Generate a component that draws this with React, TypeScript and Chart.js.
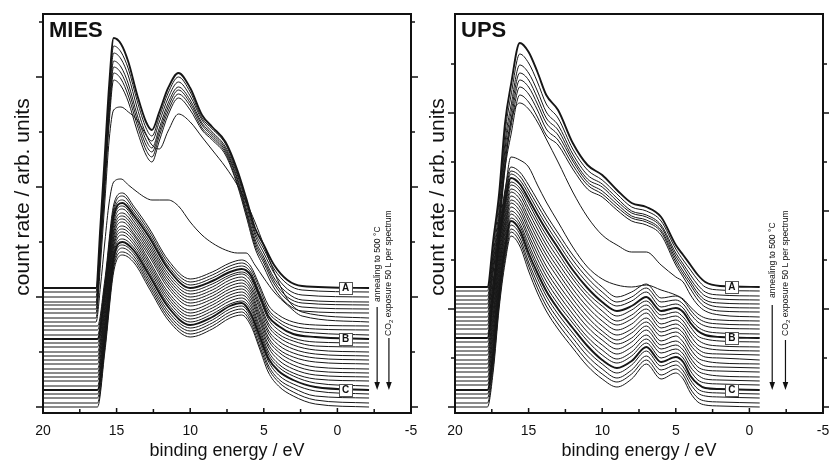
import React, { useEffect, useRef } from "react";
import { Chart, registerables } from "chart.js";

Chart.register(...registerables);

const FONT = '"Liberation Sans", Arial, Helvetica, sans-serif';

// ---------------- MIES data ----------------
// binding energies (eV) for the upper spectra (annealing series)
const miesTopEnergy = [20, 16.4, 16.1, 15.8, 15.5, 15.2, 14.7, 14.2, 13.6, 13.0, 12.6, 12.1, 11.5, 10.8, 10.0, 9.2, 8.5, 7.6, 6.8, 6.2, 5.6, 5.0, 4.3, 3.4, 2.4, -2.15];
const miesTopCurves = [
  [119, 119, 181, 252, 323, 369, 363, 345, 312, 285, 277, 295, 319, 334, 319, 292, 280, 265, 237, 209, 179, 162, 142, 127, 121, 119],
  [115, 115, 176, 246, 316, 361, 355, 338, 306, 279, 271, 290, 314, 330, 315, 289, 278, 263, 234, 206, 175, 158, 138, 123, 117, 115],
  [110, 110, 171, 239, 309, 354, 348, 331, 299, 273, 266, 285, 309, 325, 311, 287, 275, 260, 232, 203, 172, 154, 134, 118, 112, 110],
  [105, 105, 165, 233, 302, 346, 340, 323, 292, 267, 259, 279, 304, 320, 307, 284, 273, 258, 229, 199, 168, 150, 129, 114, 107, 105],
  [102, 102, 161, 228, 296, 340, 334, 317, 287, 262, 255, 275, 300, 317, 304, 282, 271, 256, 227, 196, 165, 147, 126, 110, 104, 102],
  [98, 98, 157, 223, 291, 334, 328, 311, 282, 257, 250, 271, 296, 313, 301, 279, 269, 254, 224, 194, 162, 144, 123, 107, 100, 98],
  [94, 94, 152, 217, 285, 327, 321, 305, 276, 252, 245, 266, 292, 309, 297, 277, 267, 252, 222, 191, 159, 140, 119, 103, 96, 94],
  [89, 89, 142, 205, 268, 297, 300, 295, 287, 272, 262, 258, 276, 293, 285, 270, 257, 240, 222, 205, 185, 162, 135, 108, 95, 89],
  [85, 85, 120, 165, 205, 225, 228, 222, 215, 209, 207, 207, 207, 201, 185, 172, 164, 157, 154, 154, 142, 129, 115, 102, 91, 85],
];
// binding energies (eV) for the lower spectra (CO2 exposure series)
const miesLowEnergy = [20, 16.3, 15.8, 15.2, 14.6, 13.8, 12.8, 11.5, 10.0, 8.5, 7.3, 6.5, 5.9, 5.3, 4.7, 4.0, 3.0, 1.5, -2.15];
const miesLowCurves = [
  [81, 81, 127, 202, 214, 200, 179, 147, 128, 135, 144, 147, 141, 122, 102, 92, 85, 82, 81],
  [77, 77, 123, 198, 211, 197, 176, 144, 125, 132, 141, 144, 138, 119, 98, 88, 81, 78, 77],
  [72, 72, 119, 195, 207, 194, 173, 141, 122, 129, 138, 141, 135, 115, 95, 85, 77, 74, 72],
  [68, 68, 116, 191, 204, 191, 170, 138, 119, 126, 135, 138, 132, 112, 91, 81, 73, 70, 68],
  [64, 64, 112, 188, 201, 188, 166, 134, 116, 123, 132, 135, 129, 109, 88, 77, 69, 65, 64],
  [60, 60, 108, 184, 198, 185, 163, 131, 113, 120, 130, 133, 126, 105, 84, 73, 66, 61, 60],
  [55, 55, 104, 181, 194, 182, 160, 128, 110, 117, 127, 130, 122, 102, 81, 70, 62, 57, 55],
  [51, 51, 100, 177, 191, 179, 157, 125, 107, 114, 124, 127, 119, 99, 77, 66, 58, 53, 51],
  [47, 47, 97, 174, 188, 176, 154, 122, 104, 111, 121, 124, 116, 95, 74, 62, 54, 49, 47],
  [43, 43, 93, 170, 185, 173, 151, 119, 101, 108, 118, 121, 113, 92, 70, 58, 50, 45, 43],
  [38, 38, 89, 167, 181, 171, 147, 115, 97, 105, 115, 118, 110, 89, 67, 55, 46, 40, 38],
  [34, 34, 85, 163, 178, 168, 144, 112, 94, 102, 112, 115, 107, 86, 63, 51, 42, 36, 34],
  [30, 30, 82, 160, 175, 165, 141, 109, 91, 99, 109, 112, 104, 82, 60, 47, 38, 32, 30],
  [26, 26, 78, 156, 172, 162, 138, 106, 88, 96, 106, 109, 101, 79, 56, 43, 34, 28, 26],
  [21, 21, 74, 153, 168, 159, 135, 103, 85, 93, 103, 106, 98, 76, 53, 40, 31, 24, 21],
  [17, 17, 70, 149, 165, 156, 132, 100, 82, 90, 101, 104, 94, 72, 49, 36, 27, 20, 17],
  [13, 13, 66, 146, 162, 153, 128, 96, 79, 87, 98, 101, 91, 69, 46, 32, 23, 16, 13],
  [9, 9, 63, 142, 159, 150, 125, 93, 76, 84, 95, 98, 88, 66, 42, 28, 19, 11, 9],
  [4, 4, 59, 139, 155, 147, 122, 90, 73, 81, 92, 95, 85, 62, 39, 25, 15, 7, 4],
  [0, 0, 55, 135, 152, 144, 119, 87, 70, 78, 89, 92, 82, 59, 35, 21, 11, 3, 0],
];

// ---------------- UPS data ----------------
const upsEnergy = [20, 17.8, 17.4, 17.0, 16.6, 16.2, 15.6, 15.0, 14.4, 13.8, 13.0, 12.0, 11.0, 10.0, 9.0, 8.0, 7.0, 6.0, 5.0, 4.5, 4.0, 3.5, 3.0, 2.0, -0.7];
const upsTopCurves = [
  [120, 120, 167, 214, 284, 322, 364, 355, 335, 312, 297, 264, 242, 232, 217, 204, 200, 190, 162, 152, 142, 132, 125, 121, 120],
  [116, 116, 160, 206, 274, 311, 353, 344, 325, 303, 289, 258, 237, 227, 213, 200, 196, 186, 158, 147, 137, 127, 120, 117, 116],
  [111, 111, 154, 198, 265, 301, 342, 334, 316, 295, 282, 253, 232, 223, 209, 196, 192, 182, 154, 143, 132, 122, 115, 112, 111],
  [107, 107, 150, 192, 258, 294, 334, 327, 309, 289, 277, 249, 228, 220, 206, 194, 190, 180, 151, 140, 128, 118, 111, 108, 107],
  [103, 103, 146, 187, 251, 287, 327, 320, 303, 284, 272, 246, 225, 216, 203, 191, 187, 177, 148, 136, 125, 114, 107, 104, 103],
  [99, 99, 142, 182, 245, 280, 320, 313, 297, 278, 267, 242, 222, 213, 200, 189, 185, 175, 145, 133, 122, 111, 104, 100, 99],
  [95, 95, 137, 176, 238, 272, 312, 305, 290, 272, 262, 238, 218, 210, 197, 186, 182, 172, 142, 130, 118, 107, 100, 96, 95],
  [90, 90, 135, 185, 240, 285, 304, 298, 285, 268, 245, 215, 190, 172, 162, 155, 155, 142, 130, 125, 112, 102, 96, 92, 90],
  [86, 86, 125, 170, 215, 250, 247, 240, 222, 205, 185, 160, 140, 128, 122, 120, 122, 117, 112, 108, 100, 93, 89, 87, 86],
];
const upsLowCurves = [
  [82, 82, 127, 177, 217, 240, 235, 222, 207, 192, 174, 152, 134, 120, 110, 115, 123, 109, 111, 107, 97, 89, 85, 83, 82],
  [78, 78, 122, 173, 213, 236, 231, 217, 202, 187, 169, 147, 129, 115, 105, 110, 119, 105, 107, 103, 93, 85, 81, 79, 78],
  [73, 73, 117, 169, 209, 233, 227, 213, 197, 182, 164, 142, 124, 110, 101, 106, 115, 100, 103, 99, 88, 80, 76, 74, 73],
  [69, 69, 113, 165, 205, 229, 223, 208, 192, 177, 159, 137, 119, 105, 96, 101, 110, 96, 99, 95, 84, 76, 72, 70, 69],
  [65, 65, 108, 161, 202, 225, 219, 204, 187, 172, 154, 132, 114, 101, 91, 97, 106, 92, 95, 90, 80, 71, 68, 66, 65],
  [60, 60, 103, 156, 198, 222, 216, 199, 183, 167, 149, 128, 110, 96, 86, 92, 102, 88, 91, 86, 75, 67, 63, 61, 60],
  [56, 56, 98, 152, 194, 218, 212, 195, 178, 162, 144, 123, 105, 91, 82, 88, 98, 83, 87, 82, 71, 62, 59, 57, 56],
  [52, 52, 93, 148, 190, 215, 208, 190, 173, 157, 139, 118, 100, 86, 77, 83, 94, 79, 83, 78, 66, 58, 54, 53, 52],
  [47, 47, 89, 144, 186, 211, 204, 186, 168, 152, 134, 113, 95, 81, 72, 78, 89, 75, 79, 74, 62, 54, 50, 49, 47],
  [43, 43, 84, 140, 182, 207, 200, 181, 163, 147, 129, 108, 90, 76, 67, 74, 85, 71, 75, 70, 58, 49, 46, 44, 43],
  [39, 39, 79, 136, 179, 204, 196, 177, 158, 141, 123, 103, 85, 72, 63, 69, 81, 66, 71, 65, 53, 45, 41, 40, 39],
  [35, 35, 74, 132, 175, 200, 192, 172, 153, 136, 118, 98, 80, 67, 58, 65, 77, 62, 66, 61, 49, 40, 37, 36, 35],
  [30, 30, 70, 128, 171, 196, 188, 168, 148, 131, 113, 93, 75, 62, 53, 60, 72, 58, 62, 57, 45, 36, 33, 31, 30],
  [26, 26, 65, 124, 167, 193, 184, 163, 143, 126, 108, 88, 70, 57, 48, 55, 68, 54, 58, 53, 40, 32, 28, 27, 26],
  [22, 22, 60, 120, 163, 189, 181, 159, 139, 121, 103, 84, 66, 52, 44, 51, 64, 49, 54, 49, 36, 27, 24, 23, 22],
  [17, 17, 55, 115, 159, 186, 177, 154, 134, 116, 98, 79, 61, 47, 39, 46, 60, 45, 50, 45, 31, 23, 19, 18, 17],
  [13, 13, 50, 111, 156, 182, 173, 150, 129, 111, 93, 74, 56, 43, 34, 42, 56, 41, 46, 40, 27, 18, 15, 14, 13],
  [9, 9, 46, 107, 152, 178, 169, 145, 124, 106, 88, 69, 51, 38, 29, 37, 51, 37, 42, 36, 23, 14, 11, 10, 9],
  [4, 4, 41, 103, 148, 175, 165, 141, 119, 101, 83, 64, 46, 33, 25, 33, 47, 32, 38, 32, 18, 9, 6, 5, 4],
  [0, 0, 36, 99, 144, 171, 161, 136, 114, 96, 78, 59, 41, 28, 20, 28, 43, 28, 34, 28, 14, 5, 2, 1, 0],
];

// ---------------- axes / labels ----------------
const xMajorTicks = [20, 15, 10, 5, 0, -5];
const xMinorTicks = [17.5, 12.5, 7.5, 2.5, -2.5];
const miesYMajor = [0, 110, 220, 330];
const miesYMinor = [55, 165, 275, 385];
const upsYMajor = [0, 98, 196, 294];
const upsYMinor = [49, 147, 245, 343];
const boldCurves = [0, 12, 24];
const markLabels = ["A", "B", "C"];
const markCurves = [0, 12, 24];
const yTitle = "count rate / arb. units";
const xTitle = "binding energy / eV";
const annealText = "annealing to 500 \u00B0C";
const exposureText = ["CO", "2", " exposure 50 L per spectrum"];

type Panel = {
  title: string;
  curves: { e: number[]; v: number[] }[];
  yMajor: number[];
  yMinor: number[];
  boxE: number;
  arrowE: number[];
  arrowTop: number[];
  arrowTip: number;
  textBottom: number[];
  yTitleX: number;
  yTitleY: number;
  axisWidth: number;
  padRight: number;
};

const mies: Panel = {
  title: "MIES",
  curves: [
    ...miesTopCurves.map((v) => ({ e: miesTopEnergy, v })),
    ...miesLowCurves.map((v) => ({ e: miesLowEnergy, v })),
  ],
  yMajor: miesYMajor,
  yMinor: miesYMinor,
  boxE: -0.56,
  arrowE: [-2.7, -3.5],
  arrowTop: [100, 69],
  arrowTip: 17,
  textBottom: [105, 71],
  yTitleX: 23,
  yTitleY: 197,
  axisWidth: 43,
  padRight: 29,
};

const ups: Panel = {
  title: "UPS",
  curves: [
    ...upsTopCurves.map((v) => ({ e: upsEnergy, v })),
    ...upsLowCurves.map((v) => ({ e: upsEnergy, v })),
  ],
  yMajor: upsYMajor,
  yMinor: upsYMinor,
  boxE: 1.2,
  arrowE: [-1.55, -2.45],
  arrowTop: [102, 67],
  arrowTip: 17,
  textBottom: [109, 71],
  yTitleX: 28,
  yTitleY: 197,
  axisWidth: 45,
  padRight: 27,
};

const decorPlugin = {
  id: "decor",
  afterDraw(chart: any) {
    const d: Panel = chart.options.plugins.decor.panel;
    const ctx: CanvasRenderingContext2D = chart.ctx;
    const xs = chart.scales.x;
    const ys = chart.scales.y;
    const { left, right, top, bottom } = chart.chartArea;
    ctx.save();
    ctx.strokeStyle = "#111";
    ctx.fillStyle = "#111";

    // y ticks (outward, both sides)
    ctx.lineWidth = 1.5;
    const yTick = (v: number, len: number) => {
      const py = ys.getPixelForValue(v);
      ctx.beginPath();
      ctx.moveTo(left - len, py);
      ctx.lineTo(left, py);
      ctx.moveTo(right, py);
      ctx.lineTo(right + len, py);
      ctx.stroke();
    };
    d.yMajor.forEach((v) => yTick(v, 7));
    d.yMinor.forEach((v) => yTick(v, 4));

    // x ticks (inward on bottom axis)
    const xTick = (e: number, len: number) => {
      const px = xs.getPixelForValue(e);
      ctx.beginPath();
      ctx.moveTo(px, bottom);
      ctx.lineTo(px, bottom - len);
      ctx.stroke();
    };
    xMajorTicks.forEach((e) => xTick(e, 5));
    xMinorTicks.forEach((e) => xTick(e, 4));

    // frame
    ctx.lineWidth = 2;
    ctx.strokeRect(left, top, right - left, bottom - top);

    // panel title
    ctx.font = `bold 22px ${FONT}`;
    ctx.textAlign = "left";
    ctx.textBaseline = "alphabetic";
    ctx.fillText(d.title, left + 6, top + 23);

    // y axis title
    ctx.save();
    ctx.translate(d.yTitleX, d.yTitleY);
    ctx.rotate(-Math.PI / 2);
    ctx.font = `21px ${FONT}`;
    ctx.textAlign = "center";
    ctx.textBaseline = "middle";
    ctx.fillText(yTitle, 0, 0);
    ctx.restore();

    // A / B / C boxes
    const bx = xs.getPixelForValue(d.boxE);
    markCurves.forEach((ci, k) => {
      const vals = d.curves[ci].v;
      const by = ys.getPixelForValue(vals[vals.length - 1]);
      ctx.fillStyle = "#fff";
      ctx.fillRect(bx - 6.5, by - 6, 13, 12);
      ctx.strokeStyle = "#555";
      ctx.lineWidth = 1;
      ctx.strokeRect(Math.round(bx - 6.5) + 0.5, Math.round(by - 6) + 0.5, 13, 12);
      ctx.fillStyle = "#111";
      ctx.font = `bold 10px ${FONT}`;
      ctx.textAlign = "center";
      ctx.textBaseline = "middle";
      ctx.fillText(markLabels[k], bx, by + 0.5);
    });

    // arrows
    ctx.strokeStyle = "#111";
    ctx.fillStyle = "#111";
    d.arrowE.forEach((e, k) => {
      const ax = xs.getPixelForValue(e);
      const y0 = ys.getPixelForValue(d.arrowTop[k]);
      const y1 = ys.getPixelForValue(d.arrowTip);
      ctx.lineWidth = 1.2;
      ctx.beginPath();
      ctx.moveTo(ax, y0);
      ctx.lineTo(ax, y1 - 6);
      ctx.stroke();
      ctx.beginPath();
      ctx.moveTo(ax - 2.8, y1 - 8);
      ctx.lineTo(ax + 2.8, y1 - 8);
      ctx.lineTo(ax, y1);
      ctx.closePath();
      ctx.fill();
    });

    // rotated annotation texts
    const t1x = xs.getPixelForValue(d.arrowE[0]);
    const t1y = ys.getPixelForValue(d.textBottom[0]);
    ctx.save();
    ctx.translate(t1x, t1y);
    ctx.rotate(-Math.PI / 2);
    ctx.font = `8.6px ${FONT}`;
    ctx.textAlign = "left";
    ctx.textBaseline = "middle";
    ctx.fillText(annealText, 0, 0);
    ctx.restore();

    const t2x = xs.getPixelForValue(d.arrowE[1]);
    const t2y = ys.getPixelForValue(d.textBottom[1]);
    ctx.save();
    ctx.translate(t2x, t2y);
    ctx.rotate(-Math.PI / 2);
    ctx.textAlign = "left";
    ctx.textBaseline = "middle";
    ctx.font = `8.6px ${FONT}`;
    let cx = 0;
    ctx.fillText(exposureText[0], cx, 0);
    cx += ctx.measureText(exposureText[0]).width;
    ctx.font = `6.2px ${FONT}`;
    ctx.fillText(exposureText[1], cx, 2.6);
    cx += ctx.measureText(exposureText[1]).width;
    ctx.font = `8.6px ${FONT}`;
    ctx.fillText(exposureText[2], cx, 0);
    ctx.restore();

    ctx.restore();
  },
};

function PanelChart({ panel, left }: { panel: Panel; left: number }) {
  const ref = useRef<HTMLCanvasElement>(null);
  useEffect(() => {
    const canvas = ref.current!;
    const datasets = panel.curves.map((c, i) => ({
      data: c.v.map((v, j) => ({ x: c.e[j], y: v })),
      borderColor: "#161616",
      borderWidth: boldCurves.includes(i) ? 1.9 : 1,
      pointRadius: 0,
      fill: false,
      cubicInterpolationMode: "monotone" as const,
    }));
    const chart = new Chart(canvas, {
      type: "line",
      data: { datasets },
      plugins: [decorPlugin],
      options: {
        responsive: false,
        animation: false,
        events: [],
        layout: { padding: { left: 0, right: panel.padRight, top: 14, bottom: 0 } },
        plugins: {
          legend: { display: false },
          tooltip: { enabled: false },
          decor: { panel },
        } as any,
        scales: {
          x: {
            type: "linear",
            min: -5,
            max: 20,
            reverse: true,
            grid: { display: false },
            border: { display: false },
            ticks: {
              stepSize: 5,
              padding: 2,
              color: "#111",
              font: { family: FONT, size: 14 },
              maxRotation: 0,
            },
            title: {
              display: true,
              text: xTitle,
              color: "#111",
              font: { family: FONT, size: 18 },
              padding: { top: 0, bottom: -1 },
            },
            afterFit: (s: any) => {
              s.height = 48;
            },
          },
          y: {
            type: "linear",
            min: -6,
            max: 393,
            grid: { display: false },
            border: { display: false },
            ticks: { display: false },
            afterFit: (s: any) => {
              s.width = panel.axisWidth;
            },
          },
        },
      },
    });
    return () => chart.destroy();
  }, [panel]);
  return (
    <canvas
      ref={ref}
      width={440}
      height={461}
      style={{ position: "absolute", left, top: 0, width: 440, height: 461 }}
    />
  );
}

export default function App() {
  return (
    <div
      style={{
        position: "fixed",
        left: 0,
        top: 0,
        width: 829,
        height: 461,
        overflow: "hidden",
        background: "#fff",
      }}
    >
      <PanelChart panel={mies} left={0} />
      <PanelChart panel={ups} left={410} />
    </div>
  );
}
